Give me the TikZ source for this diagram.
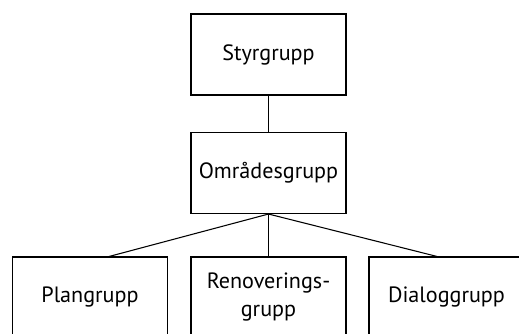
\documentclass[tikz,border=0pt]{standalone}
\usepackage{fontspec}
\setmainfont{PT Sans}
\usetikzlibrary{positioning}

\begin{document}
\begin{tikzpicture}[
        x=0.75pt, y=-0.75pt,
        grp/.style={draw, line width=0.8pt, minimum width=116.25pt,
                    minimum height=60.75pt, inner sep=0pt, align=center,
                    font=\fontsize{16.6}{21}\selectfont}
    ]
        \useasboundingbox (0,0) rectangle (519,334);
        \clip (0,0) rectangle (519,334);

        \node[grp] (styr)  at (268.5,54.5)  {Styrgrupp};
        \node[grp] (omr)   at (268.5,173)   {Områdesgrupp};
        \node[grp] (plan)  at (90,297.5)    {Plangrupp};
        \node[grp] (renov) at (268.5,297.5) {Renoverings-\\grupp};
        \node[grp] (dial)  at (446.5,297.5) {Dialoggrupp};

        \draw[line width=0.8pt] (styr) -- (omr);
        \draw[line width=0.8pt] (omr.south) -- (plan.65);
        \draw[line width=0.8pt] (omr.south) -- (renov);
        \draw[line width=0.8pt] (omr.south) -- (dial.103);
    \end{tikzpicture}
\end{document}
